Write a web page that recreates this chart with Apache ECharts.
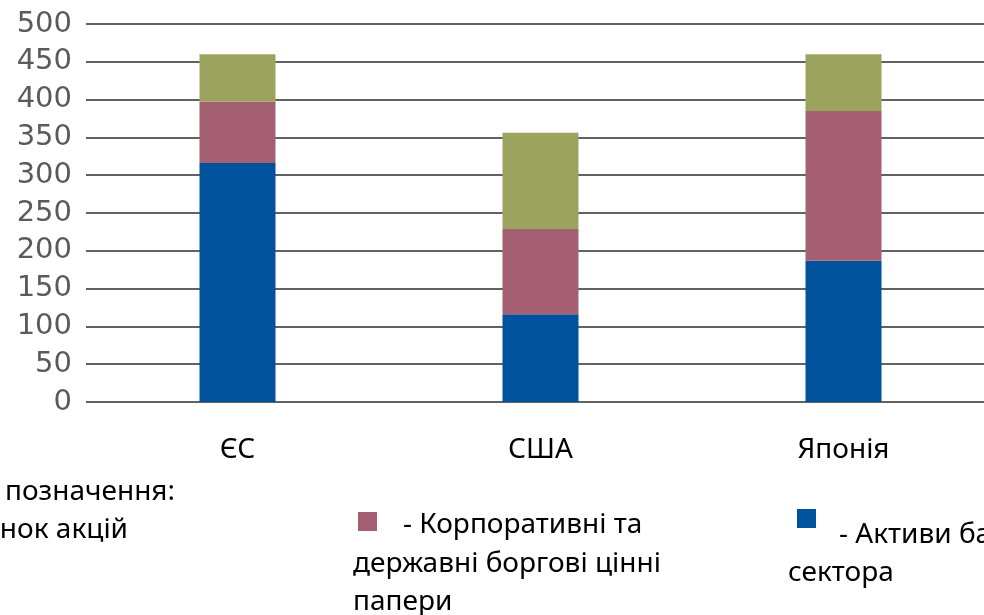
<!DOCTYPE html>
<html lang="uk">
<head>
    <meta charset="UTF-8">
    <title>Структура фінансових активів</title>
    <script src="https://cdn.jsdelivr.net/npm/echarts@6/dist/echarts.min.js"></script>
    <style>
        html, body { margin: 0; padding: 0; background: #fff; }
        #main_chart { width: 984px; height: 615px; overflow: hidden; }
    </style>
</head>
<body>
<div id="main_chart"></div>
<script>
    // категорії
    var categories = ['ЄС', 'США', 'Японія'];
    // значення по сегментах (знизу вгору)
    var bankAssets = [316, 116, 187];
    var debtSecurities = [81, 113, 198];
    var stockMarket = [63, 127, 75];

    // кольори
    var blueColor = '#01529c';
    var pinkColor = '#a45f72';
    var greenColor = '#9ca35e';

    var textFont = '"Noto Sans", "Open Sans", sans-serif';

    function legendText(str, x, baseline, align) {
        return {
            type: 'text',
            x: x,
            y: baseline - 8,
            style: {
                text: str,
                font: '28px ' + textFont,
                fill: '#000',
                align: align || 'left',
                verticalAlign: 'middle'
            }
        };
    }

    function legendBox(x, y, color) {
        return {
            type: 'rect',
            shape: { x: x, y: y, width: 19, height: 19 },
            style: { fill: color }
        };
    }

    var myChart = echarts.init(document.getElementById('main_chart'));

    var option = {
        animation: false,
        // сітка виходить за правий край, як на оригіналі
        grid: { left: 86, top: 24, width: 909, height: 378, outerBoundsMode: 'none', containLabel: false },
        xAxis: {
            type: 'category',
            data: categories,
            axisLine: { show: false },
            axisTick: { show: false },
            axisLabel: {
                margin: 34,
                color: '#000',
                fontSize: 28,
                fontFamily: textFont
            }
        },
        yAxis: {
            type: 'value',
            min: 0,
            max: 500,
            interval: 50,
            axisLine: { show: false },
            axisTick: { show: false },
            axisLabel: {
                margin: 14,
                color: '#5a5a5a',
                fontSize: 29,
                fontFamily: '"DejaVu Sans", Verdana, sans-serif'
            },
            splitLine: {
                lineStyle: { color: '#626262', width: 2 }
            }
        },
        series: [
            {
                name: 'Активи банківського сектора',
                type: 'bar',
                stack: 'total',
                barWidth: 76,
                itemStyle: { color: blueColor },
                data: bankAssets
            },
            {
                name: 'Корпоративні та державні боргові цінні папери',
                type: 'bar',
                stack: 'total',
                barWidth: 76,
                itemStyle: { color: pinkColor },
                data: debtSecurities
            },
            {
                name: 'Ринок акцій',
                type: 'bar',
                stack: 'total',
                barWidth: 76,
                itemStyle: { color: greenColor },
                data: stockMarket
            }
        ],
        graphic: [
            legendText('Умовні позначення:', 175, 500, 'right'),
            legendText('- Ринок акцій', 128, 538, 'right'),
            legendBox(358, 512, pinkColor),
            legendText('- Корпоративні та', 403, 533),
            legendText('державні боргові цінні', 353, 572),
            legendText('папери', 353, 610),
            legendBox(797, 509, blueColor),
            legendText('- Активи банківського', 839, 543),
            legendText('сектора', 788, 581)
        ]
    };

    myChart.setOption(option);
</script>
</body>
</html>
